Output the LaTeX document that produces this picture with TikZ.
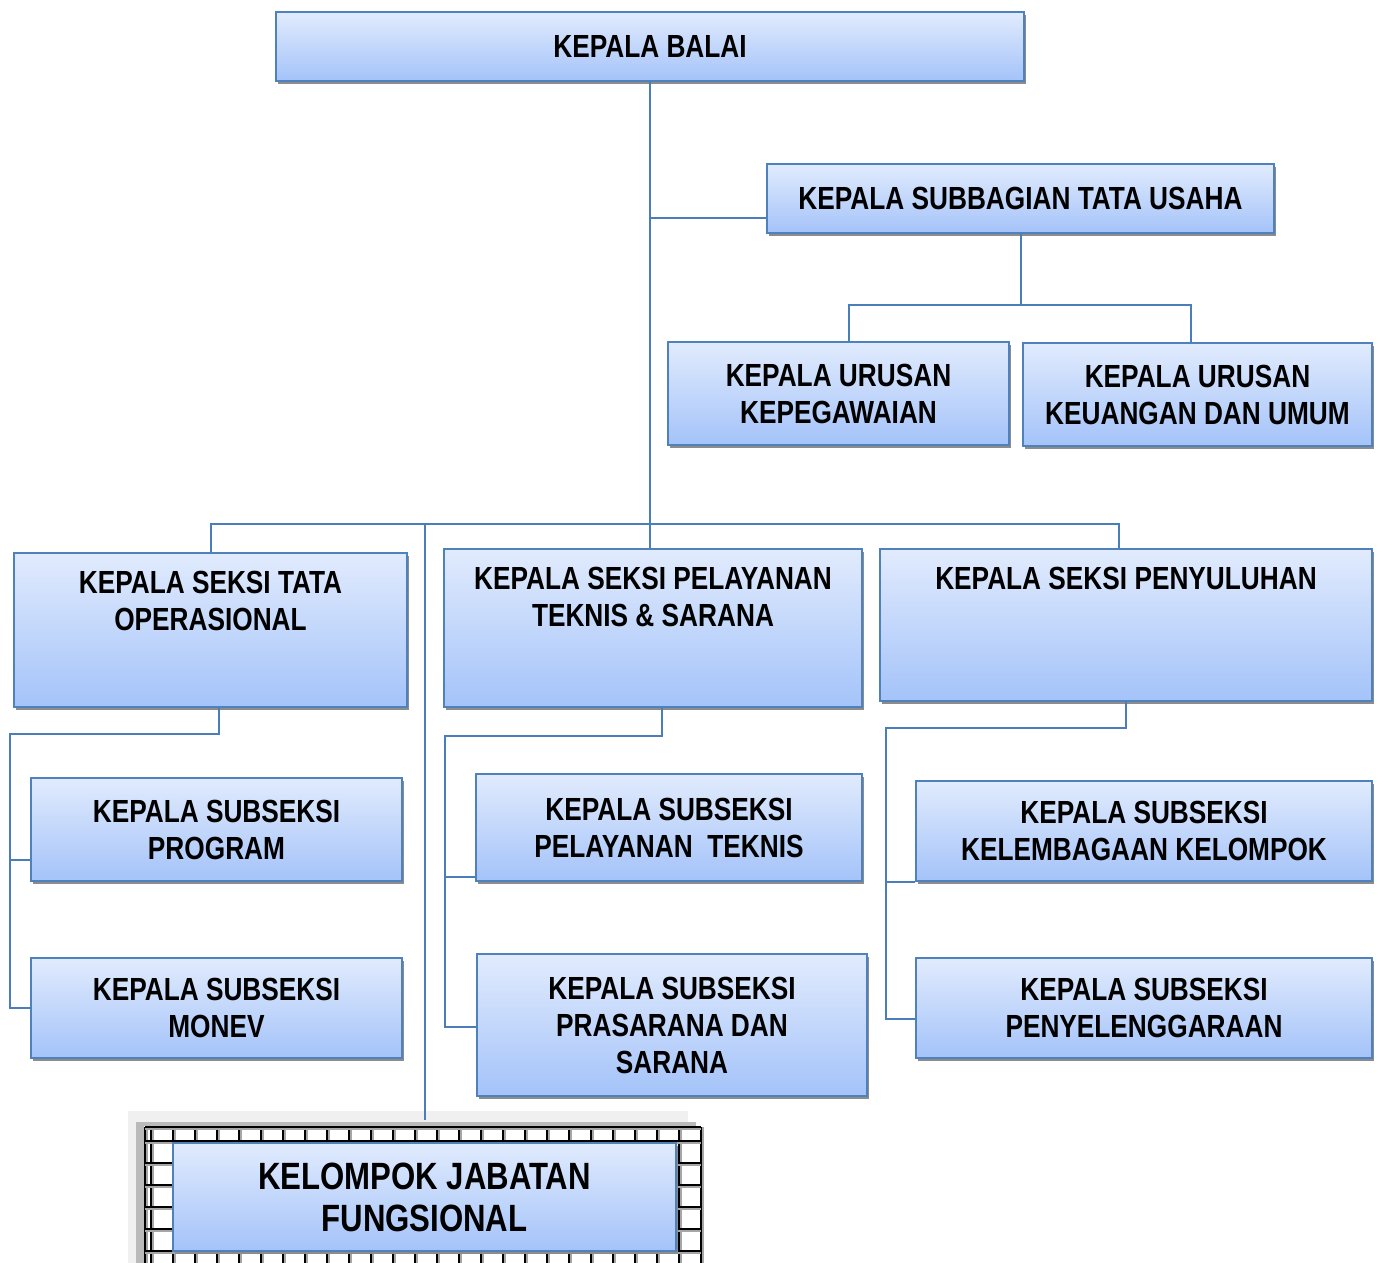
\documentclass[tikz,border=0pt]{standalone}
\usepackage{fontspec}
\setmainfont{Liberation Sans}[FakeStretch=0.82]
\usetikzlibrary{shadows}
\definecolor{boxline}{HTML}{4F81BD}
\definecolor{linkline}{HTML}{4A7EBB}
\definecolor{boxtop}{HTML}{E1EBFD}
\definecolor{boxbottom}{HTML}{A4C3F9}
\begin{document}
\begin{tikzpicture}[
  x=0.5pt, y=-0.5pt,
  unit/.style={draw=boxline, line width=1pt, top color=boxtop, bottom color=boxbottom,
    drop shadow={shadow xshift=1pt, shadow yshift=-1.5pt, fill=black!45, opacity=1},
    anchor=north west, inner sep=0pt, align=center,
    font=\fontsize{16}{18.5}\selectfont\bfseries},
  caption/.style={anchor=north, inner sep=0pt, align=center,
    font=\fontsize{16}{18.5}\selectfont\bfseries},
  link/.style={draw=linkline, line width=1pt}]
  \useasboundingbox (0,0) rectangle (1378,1263);

  % Backdrop of the functional group
  \fill[black!6] (128,1111) rectangle (688,1263);
  \fill[black!27] (136,1122) rectangle (696,1263);
  \fill[white] (144,1126) rectangle (703,1263);
  \begin{scope}
    \clip (140,1120) rectangle (706,1263);
    \foreach \gx in {145,151,173,...,701} {
      \draw[black!35, line width=1pt] (\gx+2,1127) -- (\gx+2,1270);
      \draw[black, line width=1pt] (\gx,1127) -- (\gx,1270);
    }
    \foreach \gy in {1127,1141,1163,...,1273} {
      \draw[black!35, line width=1pt] (145,\gy+2) -- (701,\gy+2);
      \draw[black, line width=1pt] (145,\gy) -- (701,\gy);
    }
  \end{scope}

  % Head of the office
  \node[unit, minimum width=374pt, minimum height=34.5pt] (balai) at (275,11) {KEPALA BALAI};

  % Administration branch
  \node[unit, minimum width=253.5pt, minimum height=34.5pt] (tu) at (766,163) {KEPALA SUBBAGIAN TATA USAHA};
  \node[unit, minimum width=170.5pt, minimum height=51.5pt] (kepeg) at (667,341) {KEPALA URUSAN\\KEPEGAWAIAN};
  \node[unit, minimum width=174.5pt, minimum height=51.5pt] (keu) at (1022,342) {KEPALA URUSAN\\KEUANGAN DAN UMUM};

  % Sections
  \node[unit, minimum width=196.5pt, minimum height=77pt] (tataop) at (13,552) {};
  \node[caption] (tataoptext) at ([yshift=-9.5pt]tataop.north) {KEPALA SEKSI TATA\\OPERASIONAL};
  \node[unit, minimum width=209pt, minimum height=79pt] (pelayanan) at (443,548) {};
  \node[caption] (pelayanantext) at ([yshift=-9.5pt]pelayanan.north) {KEPALA SEKSI PELAYANAN\\TEKNIS \& SARANA};
  \node[unit, minimum width=246pt, minimum height=76pt] (penyuluhan) at (879,548) {};
  \node[caption] (penyuluhantext) at ([yshift=-9.5pt]penyuluhan.north) {KEPALA SEKSI PENYULUHAN};

  % Subsections
  \node[unit, minimum width=185.5pt, minimum height=51.5pt] (program) at (30,777) {KEPALA SUBSEKSI\\PROGRAM};
  \node[unit, minimum width=185.5pt, minimum height=50pt] (monev) at (30,957) {KEPALA SUBSEKSI\\MONEV};
  \node[unit, minimum width=193pt, minimum height=53.5pt] (pelteknis) at (475,773) {KEPALA SUBSEKSI\\PELAYANAN~~TEKNIS};
  \node[unit, minimum width=195pt, minimum height=71pt] (prasarana) at (476,953) {KEPALA SUBSEKSI\\PRASARANA DAN\\SARANA};
  \node[unit, minimum width=228pt, minimum height=50pt] (kelembagaan) at (915,780) {KEPALA SUBSEKSI\\KELEMBAGAAN KELOMPOK};
  \node[unit, minimum width=228pt, minimum height=50pt] (penyelenggaraan) at (915,957) {KEPALA SUBSEKSI\\PENYELENGGARAAN};

  % Functional group
  \node[unit, minimum width=251.5pt, minimum height=54pt, font=\fontsize{19}{21}\selectfont\bfseries] (jabatan) at (172,1142) {KELOMPOK JABATAN\\FUNGSIONAL};

  % Connectors
  \coordinate (bus) at (651,524);
  \coordinate (tujoint) at (1022,305);
  \coordinate (tulink) at ([yshift=8pt]tu.south west);
  \coordinate (tataleft) at (10,734);
  \coordinate (pelleft) at (445,736);
  \coordinate (penleft) at (886,728);
  \draw[link] (balai.south) -- (balai.south |- pelayanan.north);
  \draw[link] (balai.south |- tulink) -- (tulink);
  \draw[link] (tu.south) -- (tu.south |- tujoint);
  \draw[link] ([xshift=5pt]kepeg.north) |- (tujoint) -| ([xshift=-3.5pt]keu.north);
  \draw[link] (tataop.north) |- (bus) -| ([xshift=-3.5pt]penyuluhan.north);
  \draw[link] (jabatan.north |- bus) -- ([yshift=11pt]jabatan.north);
  \draw[link] ([xshift=4pt]tataop.south) |- (tataleft) |- (monev.west);
  \draw[link] (tataleft |- program.south) ++(0,-22) -- ([yshift=11pt]program.south west);
  \draw[link] ([xshift=4.5pt]pelayanan.south) |- (pelleft) |- ([yshift=-1pt]prasarana.west);
  \draw[link] (pelleft |- pelteknis.south) ++(0,-5) -- ([yshift=2.5pt]pelteknis.south west);
  \draw[link] (penyuluhan.south) |- (penleft) |- ([yshift=-5.5pt]penyelenggaraan.west);
  \draw[link] (penleft |- kelembagaan.south) -- (kelembagaan.south west);
\end{tikzpicture}
\end{document}
